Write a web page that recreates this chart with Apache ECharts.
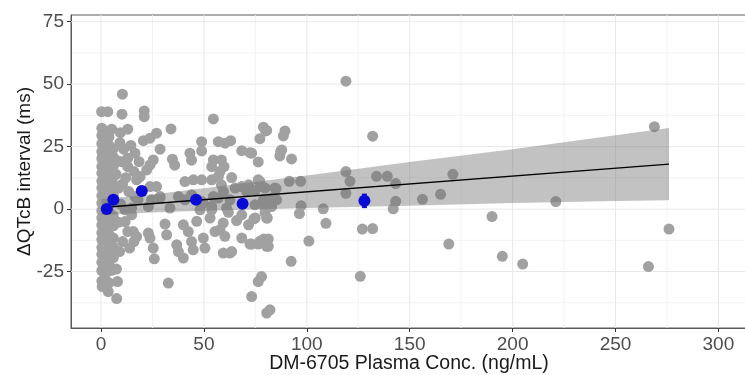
<!DOCTYPE html>
<html>
<head>
<meta charset="utf-8">
<script src="https://cdn.jsdelivr.net/npm/echarts@6/dist/echarts.min.js"></script>
<style>
html,body{margin:0;padding:0;background:#fff;}
#chart{width:745px;height:375px;}
</style>
</head>
<body>
<div id="chart"></div>
<script>
// ---- data ----
const xTicks = [0, 50, 100, 150, 200, 250, 300];
const xMinorGrid = [25, 75, 125, 175, 225, 275];
const yTicks = [-25, 0, 25, 50, 75];
const yMinorGrid = [-37.5, -12.5, 12.5, 37.5, 62.5];

// individual observations [concentration, dQTcB]
const observations = [
  [0.3,39],[3.3,39],[10.4,46],[10.2,38],
  [0.4,32.4],[0.4,29.5],[0.4,26.2],[0.4,23],[0.4,20.3],[0.4,17.1],[0.4,14.4],[0.4,11.2],[0.4,8.5],[0.4,5.3],[0.4,2.4],[0.4,-0.6],[0.4,-3.5],[0.4,-6.4],[0.4,-9.5],[0.4,-12.2],[0.4,-15.4],[0.4,-18.1],[0.4,-21.3],[0.4,-24.6],[0.4,-28.8],
  [2.1,30.8],[2.1,27.4],[2.1,24.6],[2.1,21.2],[2.1,18.5],[2.1,15.3],[2.1,12.6],[2.1,9.4],[2.1,6.8],[2.1,3.7],[2.1,0.9],[2.1,-2.1],[2.1,-5.2],[2.1,-7.9],[2.1,-11.1],[2.1,-13.8],[2.1,-16.9],[2.1,-19.8],[2.1,-22.7],[2.1,-25.8],
  [3.9,28.9],[3.9,25.5],[3.9,22.8],[3.9,19.4],[3.9,16.6],[3.9,13.5],[3.9,10.7],[3.9,7.6],[3.9,4.8],[3.9,1.8],[3.9,-1.2],[3.9,-4.1],[3.9,-6.9],[3.9,-10.2],[3.9,-13],[3.9,-16.1],[3.9,-18.8],[3.9,-22],[3.9,-29.5],
  [6,24.2],[6,20.8],[6,17.3],[6,13.1],[6,9.9],[6,5.6],[6,-2.8],[6,-6.7],[6,-11.6],[6,-15.2],[6,-19.4],
  [3.5,-33],[7.6,-35.8],[1.9,-26.3],[0.6,-31],[5.2,-24.5],[8.2,19.3],[7.3,13.9],[8.6,8.4],[8.4,-5.3],
  [5.2,32],[9.4,30.6],[13,32],[9.2,26.6],
  [11,24],[14.5,25.5],[12,12.5],[16,15],[19,13],[18.5,19],[10.5,10],[9.5,2],[13,-9],[10.5,-13],[9,-17],[16,-13],[7.5,-24],[8,-29],
  [13.5,7],[11.7,-0.3],[14.9,-2.3],[11.7,-5],[15.7,-9],[17.3,-11],[13.9,-15.6],
  [13,20.4],[10,19],[13,17],[16.5,22.4],
  [17.3,11.7],[23.8,9],[27,9],[16.5,5],[24.6,3.7],[28.7,4.4],[18,3.7],[14.9,0.4],[23,1],
  [20.6,27.4],[23.8,28.4],[27,30.4],[28.7,24],[21,39.3],[21,37],
  [25.4,19.7],[23.8,17.7],[22.2,15.7],
  [34,32.1],[34.7,20],[35.8,17.6],
  [43.2,22.4],[44,19.6],[48.9,27],[48.9,23.3],[54.6,19.7],[53.8,17],[57,27],[60.3,26.4],[63,27.4],[58.5,19.7],[59.8,17],
  [68.4,23.4],[72.4,22.6],[76.4,18.9],[78.9,32.8],[80.5,31.5],[77.2,28.2],[87.8,23.7],[86.9,21.3],[54.6,36.1],
  [40.8,11],[44.9,11.7],[48.9,11.7],[53.8,11.7],[57,13],[58.5,9.7],[65.2,8.4],[68.4,9],[71.7,9.7],[76.4,11.7],[79.7,8.4],[84.5,8.4],[57.8,15],[63.5,12.6],
  [28.7,5],[33.5,0.4],[37.6,5],[40.8,3.7],[44,5.7],[49.7,2.4],[54.6,5],[59.5,7],[62.7,3.7],[70.8,7],[77.3,9],[78.9,3.7],[74.8,1.7],[61,0.4],[53.8,-0.3],[48.1,-0.3],[48.9,3],[53.8,1],[57,4.4],[82.9,4.4],[85.3,3.7],
  [23,-9.6],[23.8,-11.6],[25.4,-15.6],[25.9,-19.9],[31.1,-6],[31.9,-10.3],[36.8,-14.3],[37.6,-17],[40,-19.6],[40,-6.3],[42.4,-9],[44,-13],[44.8,-16.3],[46.5,-4.9],[49.7,-11.6],[50.5,-15.6],[32.7,-29.6],
  [53,-3.6],[55.4,-9],[57.8,-8.3],[59.4,-5.6],[60.2,-10.9],[61.9,-1.3],[65.9,-4.6],[59.4,-17.6],[62.6,-17.6],[63.5,-17],
  [68.4,-11.6],[71.7,-6.3],[74.9,-3.6],[68.4,-2.3],[73.2,-14],[77.2,-12.9],[80.5,-14.9],[81.3,-12],[80.5,-3.6],[82.9,1],[79.7,0.3],
  [76.4,-29],[78,-27],[73.2,-35],[80.5,-41.6],[82.1,-40.3],
  [119,51.2],[132,29.2],[80.1,31.3],[89.4,31.3],[88.6,29.3],[73.2,22.4],[87.3,23.1],[92.6,20.1],
  [119,15],[121,11.1],[119,6.3],[133.9,13.1],[139.1,13.1],[143.2,10.2],[171,13.9],[165,5.9],[156.2,3.9],[143.2,3.1],[142,0.1],
  [91.5,11.1],[97,11.1],[85.1,8.2],[77.2,11.1],[74.8,7.4],[82.4,3.9],[79.7,1.5],[97.2,1.3],[96.4,-1.8],[108,0.1],[109.3,-5.7],
  [79.7,-1.6],[80.8,-3.6],[74.3,-3.9],[127,-8],[132,-7.8],[101,-12.8],[92.4,-20.9],[126,-26.9],
  [72.4,-14],[76.4,-14],[79.1,-12],[81.3,-14.9],[169,-14],[190,-3],
  [268.9,33],[221,3],[276,-8],[195,-18.9],[204.9,-22],[266,-23]
];

// binned means with error bars
const binX = [2.8, 6.0, 19.8, 46.2, 68.8, 128.0];
const binY = [0.0, 3.7, 7.2, 3.7, 2.1, 3.3];
const binLo = [-0.5, 3.1, 6.5, 3.1, 1.5, 0.8];
const binHi = [0.5, 4.3, 7.9, 4.3, 2.7, 5.8];

// linear fit and its confidence band
const fitX = [0.3, 276];
const fitY = [0.64, 18.0];
const bandX = [0.3, 25, 50, 100, 150, 200, 250, 276];
const bandLo = [-2.4, -1.4, -0.7, 0.4, 1.3, 2.4, 3.2, 3.5];
const bandHi = [4.0, 5.8, 8.3, 13.4, 18.9, 24.0, 29.6, 32.5];

// ---- chart ----
const XMIN = -14.58, XMAX = 313.9, YMIN = -47.6, YMAX = 77.7;
const chart = echarts.init(document.getElementById('chart'));
const font = 'Liberation Sans, Arial, sans-serif';

function vGrid(vals, color, z) {
  return {
    type: 'custom', silent: true, z: z,
    data: vals.map(v => [v, 0]),
    renderItem: (params, api) => {
      const cs = params.coordSys;
      const x = api.coord([api.value(0), 0])[0];
      return {type: 'line', shape: {x1: x, y1: cs.y, x2: x, y2: cs.y + cs.height},
        style: {stroke: color, lineWidth: 1}};
    }
  };
}
function hGrid(vals, color, z) {
  return {
    type: 'custom', silent: true, z: z,
    data: vals.map(v => [0, v]),
    renderItem: (params, api) => {
      const cs = params.coordSys;
      const y = api.coord([0, api.value(1)])[1];
      return {type: 'line', shape: {x1: cs.x, y1: y, x2: cs.x + cs.width, y2: y},
        style: {stroke: color, lineWidth: 1}};
    }
  };
}

const option = {
  animation: false,
  backgroundColor: '#fff',
  grid: {left: 71, top: 15, right: -2, bottom: 47, show: true, borderColor: '#5a5a5a', borderWidth: 1,
    backgroundColor: 'transparent', containLabel: false, outerBoundsMode: 'none'},
  xAxis: {
    type: 'value', min: XMIN, max: XMAX,
    name: 'DM-6705 Plasma Conc. (ng/mL)', nameLocation: 'middle', nameGap: 26, nameMoveOverlap: false,
    nameTextStyle: {fontFamily: font, fontSize: 19.5, color: '#1a1a1a', verticalAlign: 'top'},
    axisLine: {show: true, onZero: false, lineStyle: {color: '#5a5a5a', width: 1}},
    axisTick: {show: true, length: 4, customValues: xTicks, lineStyle: {color: '#333'}},
    axisLabel: {customValues: xTicks, fontFamily: font, fontSize: 19, color: '#4d4d4d', margin: 7},
    splitLine: {show: false}
  },
  yAxis: {
    type: 'value', min: YMIN, max: YMAX,
    name: 'ΔQTcB interval (ms)', nameLocation: 'middle', nameGap: 37, nameMoveOverlap: false,
    nameTextStyle: {fontFamily: font, fontSize: 19, color: '#1a1a1a'},
    axisLine: {show: true, onZero: false, lineStyle: {color: '#5a5a5a', width: 1}},
    axisTick: {show: true, length: 4, customValues: yTicks, lineStyle: {color: '#333'}},
    axisLabel: {customValues: yTicks, fontFamily: font, fontSize: 19, color: '#4d4d4d', margin: 7},
    splitLine: {show: false}
  },
  series: [
    vGrid(xMinorGrid, '#f2f2f2', 0),
    hGrid(yMinorGrid, '#f2f2f2', 0),
    vGrid(xTicks, '#e8e8e8', 1),
    hGrid(yTicks, '#e8e8e8', 1),
    {
      type: 'scatter', z: 2, symbol: 'circle', symbolSize: 11,
      itemStyle: {color: '#a1a1a1', opacity: 1},
      data: observations, silent: true
    },
    {
      type: 'custom', z: 3, silent: true,
      data: [[bandX[0], bandLo[0]]],
      renderItem: (params, api) => {
        const top = bandX.map((x, i) => api.coord([x, bandHi[i]]));
        const bot = bandX.map((x, i) => api.coord([x, bandLo[i]])).reverse();
        return {type: 'polygon', shape: {points: top.concat(bot)},
          style: {fill: 'rgba(110,110,110,0.42)'}};
      }
    },
    {
      type: 'line', z: 4, silent: true, symbol: 'none',
      data: fitX.map((x, i) => [x, fitY[i]]),
      lineStyle: {color: '#000', width: 1.3}
    },
    {
      type: 'custom', z: 5, silent: true,
      data: binX.map((x, i) => [x, binLo[i], binHi[i]]),
      renderItem: (params, api) => {
        const lo = api.coord([api.value(0), api.value(1)]);
        const hi = api.coord([api.value(0), api.value(2)]);
        const st = {stroke: '#0a0ad6', lineWidth: 2};
        return {type: 'group', children: [
          {type: 'line', shape: {x1: lo[0], y1: lo[1], x2: hi[0], y2: hi[1]}, style: st},
          {type: 'line', shape: {x1: lo[0] - 2.5, y1: lo[1], x2: lo[0] + 2.5, y2: lo[1]}, style: st},
          {type: 'line', shape: {x1: hi[0] - 2.5, y1: hi[1], x2: hi[0] + 2.5, y2: hi[1]}, style: st}
        ]};
      }
    },
    {
      type: 'scatter', z: 6, symbol: 'circle', symbolSize: 12, silent: true,
      itemStyle: {color: '#0a0ad6', opacity: 1},
      data: binX.map((x, i) => [x, binY[i]])
    }
  ]
};
chart.setOption(option);
</script>
</body>
</html>
